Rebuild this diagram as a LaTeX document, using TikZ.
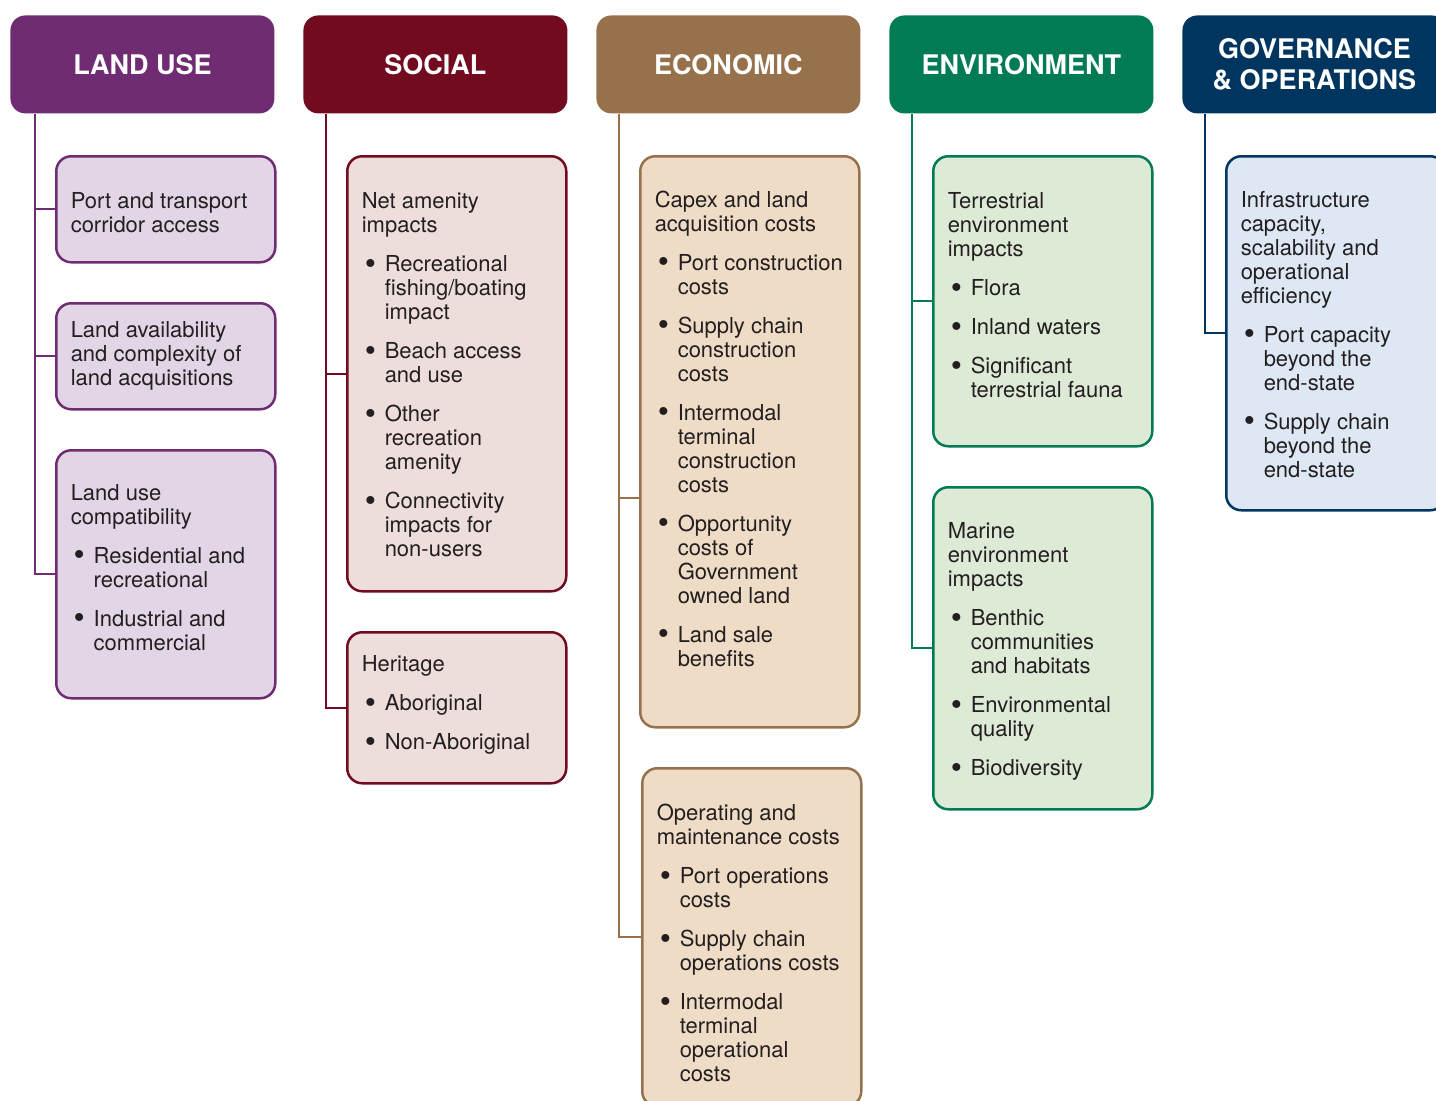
\documentclass[tikz,border=0pt]{standalone}
\usepackage{fontspec}
\setmainfont{TeX Gyre Heros}
\usepackage{tikz}

\definecolor{lucol}{HTML}{6F2C73}
\definecolor{lufill}{HTML}{E2D5E6}
\definecolor{socol}{HTML}{720B1F}
\definecolor{sofill}{HTML}{EDDDDB}
\definecolor{eccol}{HTML}{96714C}
\definecolor{ecfill}{HTML}{EFDCC6}
\definecolor{encol}{HTML}{007B55}
\definecolor{enfill}{HTML}{DDEAD6}
\definecolor{gocol}{HTML}{00355F}
\definecolor{gofill}{HTML}{DDE8F4}
\definecolor{txt}{HTML}{231F20}

\newcommand{\bitem}{\makebox[11.5pt][l]{\hspace{1.5pt}\raisebox{-1.4pt}{\fontsize{16}{12}\selectfont\textbullet}}}
\newcommand{\cont}{\hspace*{11.5pt}}
\newcommand{\cell}[2][0pt]{\makebox[95pt][l]{\raisebox{0pt}[\dimexpr\height+#1\relax]{\begin{tabular}{@{}l@{}}#2\end{tabular}}}}

\begin{document}
\begin{tikzpicture}[x=0.5pt,y=-0.5pt,
  head/.style={anchor=north west, rounded corners=7.5pt, minimum width=132pt, minimum height=49pt,
    text=white, align=center, font=\fontsize{13.5}{15.5}\selectfont\bfseries},
  sub/.style={anchor=north west, draw, rounded corners=7.5pt, line width=1.25pt, minimum width=109.5pt,
    inner xsep=7.25pt, inner ysep=0pt, text=txt, font=\fontsize{11}{12}\selectfont},
  link/.style={line width=1pt}]
\useasboundingbox (0,0) rectangle (1436,1100);
\clip (0,0) rectangle (1436,1100);

\node[head, fill=lucol] (lu) at (10,15) {LAND USE};
\node[head, fill=socol] (so) at (303,15) {SOCIAL};
\node[head, fill=eccol] (ec) at (596,15) {ECONOMIC};
\node[head, fill=encol] (en) at (889,15) {ENVIRONMENT};
\node[head, fill=gocol] (go) at (1182,15) {GOVERNANCE\\\& OPERATIONS};

% land use
\node[sub, draw=lucol, fill=lufill, minimum height=53pt] (lu1) at (55,155)
  {\cell[6pt]{Port and transport\\corridor access}};
\node[sub, draw=lucol, fill=lufill, minimum height=53pt] (lu2) at (55,302)
  {\cell{Land availability\\and complexity of\\land acquisitions}};
\node[sub, draw=lucol, fill=lufill, minimum height=124pt] (lu3) at (55,449)
  {\cell[-4pt]{Land use\\compatibility\\[7.5pt]
  \bitem Residential and\\\cont recreational\\[7.5pt]
  \bitem Industrial and\\\cont commercial}};

% social
\node[sub, draw=socol, fill=sofill, minimum height=217.5pt] (so1) at (346,155)
  {\cell[4pt]{Net amenity\\impacts\\[7.5pt]
  \bitem Recreational\\\cont fishing/boating\\\cont impact\\[7.5pt]
  \bitem Beach access\\\cont and use\\[7.5pt]
  \bitem Other\\\cont recreation\\\cont amenity\\[7.5pt]
  \bitem Connectivity\\\cont impacts for\\\cont non-users}};
\node[sub, draw=socol, fill=sofill, minimum height=75.5pt] (so2) at (346,631)
  {\cell[-2pt]{Heritage\\[7.5pt]
  \bitem Aboriginal\\[7.5pt]
  \bitem Non-Aboriginal}};

% economic
\node[sub, draw=eccol, fill=ecfill, minimum height=285.5pt] (ec1) at (639,155)
  {\cell{Capex and land\\acquisition costs\\[7.5pt]
  \bitem Port construction\\\cont costs\\[7.5pt]
  \bitem Supply chain\\\cont construction\\\cont costs\\[7.5pt]
  \bitem Intermodal\\\cont terminal\\\cont construction\\\cont costs\\[7.5pt]
  \bitem Opportunity\\\cont costs of\\\cont Government\\\cont owned land\\[7.5pt]
  \bitem Land sale\\\cont benefits\\[10pt]}};
\node[sub, draw=eccol, fill=ecfill, minimum height=169pt] (ec2) at (641,767)
  {\cell[9pt]{Operating and\\maintenance costs\\[7.5pt]
  \bitem Port operations\\\cont costs\\[7.5pt]
  \bitem Supply chain\\\cont operations costs\\[7.5pt]
  \bitem Intermodal\\\cont terminal\\\cont operational\\\cont costs}};

% environment
\node[sub, draw=encol, fill=enfill, minimum height=145pt] (en1) at (932,155)
  {\cell[-3pt]{Terrestrial\\environment\\impacts\\[7.5pt]
  \bitem Flora\\[7.5pt]
  \bitem Inland waters\\[7.5pt]
  \bitem Significant\\\cont terrestrial fauna}};
\node[sub, draw=encol, fill=enfill, minimum height=161pt] (en2) at (932,486)
  {\cell[4pt]{Marine\\environment\\impacts\\[7.5pt]
  \bitem Benthic\\\cont communities\\\cont and habitats\\[7.5pt]
  \bitem Environmental\\\cont quality\\[7.5pt]
  \bitem Biodiversity}};

% governance
\node[sub, draw=gocol, fill=gofill, minimum height=177pt] (go1) at (1225,155)
  {\cell[4pt]{Infrastructure\\capacity,\\scalability and\\operational\\efficiency\\[7.5pt]
  \bitem Port capacity\\\cont beyond the\\\cont end-state\\[7.5pt]
  \bitem Supply chain\\\cont beyond the\\\cont end-state}};

% connectors
\draw[link, lucol] ([xshift=12.5pt]lu.south west) |- (lu1.west);
\draw[link, lucol] ([xshift=12.5pt]lu.south west) |- (lu2.west);
\draw[link, lucol] ([xshift=12.5pt]lu.south west) |- (lu3.west);
\draw[link, socol] ([xshift=11.5pt]so.south west) |- (so1.west);
\draw[link, socol] ([xshift=11.5pt]so.south west) |- (so2.west);
\draw[link, eccol] ([xshift=11.5pt]ec.south west) |- ([yshift=-28pt]ec1.west);
\draw[link, eccol] ([xshift=11.5pt]ec.south west) |- (ec2.west);
\draw[link, encol] ([xshift=11.5pt]en.south west) |- (en1.west);
\draw[link, encol] ([xshift=11.5pt]en.south west) |- (en2.west);
\draw[link, gocol] ([xshift=11.5pt]go.south west) |- (go1.west);

\end{tikzpicture}
\end{document}
